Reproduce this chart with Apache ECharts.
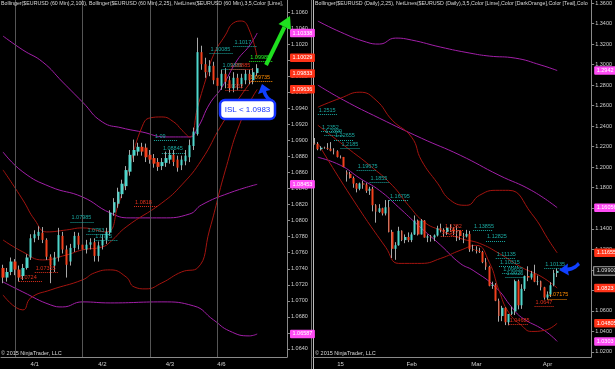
<!DOCTYPE html>
<html><head><meta charset="utf-8">
<script src="https://cdn.jsdelivr.net/npm/echarts@6/dist/echarts.min.js"></script>
<style>html,body{margin:0;padding:0;background:#000}#c{width:615px;height:369px}</style>
</head><body><div id="c"></div>
<script>
// ---------------- LEFT PANEL (60 min) ----------------
const leftCount = 72;
const leftTickIdx = [8, 25, 42, 55];
const leftTickText = ['4/1', '4/2', '4/3', '4/6'];
const leftDaySep = [3, 20, 37, 54];
const leftYTicks = [1.064,1.066,1.068,1.070,1.072,1.074,1.076,1.078,1.080,1.082,1.084,1.086,1.088,1.090,1.092,1.094,1.096,1.098,1.100,1.102,1.104,1.106];
const leftOpen  = [1.0741,1.0729,1.0736,1.0749,1.0739,1.0731,1.0741,1.0754,1.0778,1.0781,1.0785,1.0776,1.0755,1.0744,1.0754,1.0781,1.0764,1.0749,1.0766,1.0781,1.0770,1.0764,1.0770,1.0773,1.0756,1.0769,1.0776,1.0785,1.0810,1.0821,1.0833,1.0843,1.0861,1.0881,1.0886,1.0892,1.0891,1.0882,1.0878,1.0873,1.0868,1.0872,1.0876,1.0882,1.0876,1.0869,1.0874,1.0879,1.0893,1.0908,1.1010,1.0995,1.0985,1.0993,1.0978,1.0968,1.0983,1.0975,1.0965,1.0978,1.0970,1.0975,1.0983,1.0975,1.0984];
const leftClose = [1.0729,1.0736,1.0749,1.0739,1.0729,1.0741,1.0754,1.0778,1.0783,1.0786,1.0776,1.0755,1.0744,1.0754,1.0782,1.0764,1.0745,1.0766,1.0781,1.0770,1.0764,1.0770,1.0773,1.0756,1.0769,1.0776,1.0786,1.0810,1.0823,1.0836,1.0846,1.0863,1.0882,1.0888,1.0892,1.0886,1.0879,1.0876,1.0871,1.0867,1.0873,1.0878,1.0882,1.0873,1.0866,1.0876,1.0881,1.0894,1.0911,1.1010,1.0995,1.0985,1.0993,1.0975,1.0968,1.0983,1.0973,1.0965,1.0978,1.0970,1.0978,1.0983,1.0975,1.0985,1.0990];
const leftLow   = [1.0722,1.0724,1.0732,1.0732,1.0724,1.0726,1.0739,1.0751,1.0773,1.0776,1.0772,1.0751,1.0722,1.0736,1.0749,1.0759,1.0729,1.0744,1.0761,1.0764,1.0756,1.0759,1.0764,1.0749,1.0749,1.0764,1.0771,1.0781,1.0806,1.0816,1.0828,1.0838,1.0856,1.0873,1.0881,1.0881,1.0873,1.0871,1.0866,1.0862,1.0863,1.0867,1.0871,1.0868,1.0861,1.0863,1.0869,1.0873,1.0888,1.0906,1.0988,1.0978,1.0980,1.0970,1.0963,1.0963,1.0965,1.0960,1.0960,1.0963,1.0965,1.0970,1.0970,1.0970,1.0980];
const leftHigh  = [1.0745,1.0741,1.0754,1.0752,1.0744,1.0746,1.0758,1.0783,1.0788,1.0793,1.0792,1.0778,1.0758,1.0761,1.0791,1.0786,1.0769,1.0771,1.0786,1.0785,1.0776,1.0776,1.0778,1.0778,1.0774,1.0783,1.0791,1.0813,1.0828,1.0841,1.0851,1.0868,1.0888,1.0901,1.0897,1.0897,1.0896,1.0888,1.0883,1.0878,1.0878,1.0886,1.0888,1.0888,1.0881,1.0881,1.0888,1.0901,1.0916,1.1028,1.1018,1.1003,1.1000,1.0998,1.0983,1.0988,1.0990,1.0980,1.0985,1.0983,1.0983,1.0988,1.0988,1.0990,1.0995];
// Bollinger (2,100) – purple, sampled
const leftBB100UpIdx  = [0,5,10,15,20,25,30,35,41,47,49,52,55,59,62,64];
const leftBB100Up     = [1.10301,1.10127,1.09977,1.09728,1.09479,1.09230,1.09155,1.09105,1.09043,1.09043,1.09155,1.09454,1.09653,1.10002,1.10177,1.10338];
const leftBB100MidIdx = [0,5,12,20,27,32,40,47,50,57,64];
const leftBB100Mid    = [1.08856,1.08607,1.08420,1.08295,1.08096,1.08034,1.08034,1.08083,1.08196,1.08345,1.08453];
const leftBB100LoIdx  = [0,5,12,15,20,27,40,48,53,57,62,64];
const leftBB100Lo     = [1.07236,1.07111,1.06949,1.06924,1.06987,1.06974,1.06987,1.06937,1.06762,1.06625,1.06563,1.06587];
// Bollinger (2,25) – dark red, sampled
const leftBB25UpIdx  = [0,5,8,11,16,20,26,29,32,35,37,40,43,45,47,49,51,53,56,58,60,62,64];
const leftBB25Up     = [1.08632,1.08258,1.08009,1.07859,1.07884,1.07909,1.07859,1.08196,1.08694,1.09168,1.09280,1.09292,1.09230,1.09130,1.09043,1.09417,1.09753,1.10065,1.10314,1.10463,1.10488,1.10376,1.10029];
const leftBB25MidIdx = [0,5,10,16,20,25,27,31,40,45,50,55,60,64];
const leftBB25Mid    = [1.07759,1.07610,1.07510,1.07572,1.07635,1.07672,1.07734,1.07921,1.08220,1.08445,1.08756,1.09192,1.09566,1.09833];
const leftBB25LoIdx  = [0,5,7,12,20,23,27,31,33,36,40,45,49,52,56,60,64];
const leftBB25Lo     = [1.07074,1.06887,1.07037,1.07136,1.07261,1.07348,1.07386,1.07298,1.07174,1.07149,1.07224,1.07361,1.07411,1.07884,1.08632,1.09255,1.09636];
// NetLines (start bar, price, kind)
const leftNetIdx  = [4, 8, 17, 21, 23, 33, 38, 40, 52, 55, 58, 56, 57, 62, 62];
const leftNetVal  = [1.0724, 1.07355, 1.07985, 1.0783, 1.0775, 1.0818, 1.0900, 1.08845, 1.10085, 1.09885, 1.1017, 1.0962, 1.09885, 1.09985, 1.09735];
const leftNetKind = ['lo','lo','hi','hi','hi','lo','hi','hi','hi','hi','hi','lo','lo','last','mid'];

// ---------------- RIGHT PANEL (Daily) ----------------
const rightCount = 86;
const rightTickIdx = [8, 30, 50, 72];
const rightTickText = ['15', 'Feb', 'Mar', 'Apr'];
const rightYTicks = [1.02,1.04,1.06,1.08,1.10,1.12,1.14,1.16,1.18,1.20,1.22,1.24,1.26,1.28,1.30,1.32,1.34,1.36];
const rightOpen  = [1.2230,1.2226,1.2176,1.2190,1.2188,1.2180,1.2160,1.2155,1.2100,1.2100,1.1950,1.1935,1.1895,1.1840,1.1790,1.1842,1.1831,1.1770,1.1790,1.1630,1.1565,1.1600,1.1550,1.1610,1.1370,1.1205,1.1240,1.1380,1.1290,1.1320,1.1290,1.1345,1.1480,1.1345,1.1480,1.1315,1.1325,1.1315,1.1335,1.1405,1.1390,1.1370,1.1410,1.1405,1.1375,1.1380,1.1330,1.1325,1.1350,1.1200,1.1195,1.1185,1.1175,1.1075,1.1030,1.0845,1.0855,1.0700,1.0550,1.0630,1.0490,1.0570,1.0595,1.0890,1.0655,1.0815,1.0940,1.0925,1.0965,1.0885,1.0890,1.0830,1.0730,1.0760,1.0850,1.0970];
const rightHigh  = [1.2285,1.2245,1.2205,1.2200,1.2235,1.2245,1.2185,1.2165,1.2115,1.2100,1.1970,1.1955,1.1910,1.1845,1.1850,1.1869,1.1845,1.1810,1.1810,1.1640,1.1640,1.1605,1.1680,1.1680,1.1390,1.1270,1.1420,1.1385,1.1345,1.1365,1.1365,1.1530,1.1490,1.1495,1.1485,1.1345,1.1340,1.1345,1.1430,1.1450,1.1405,1.1420,1.1445,1.1415,1.1430,1.1385,1.1360,1.1390,1.1380,1.1245,1.1230,1.1215,1.1185,1.1115,1.1040,1.0885,1.0870,1.0720,1.0650,1.0635,1.0570,1.0640,1.0905,1.0905,1.0860,1.0945,1.1035,1.0990,1.1050,1.0945,1.0895,1.0835,1.0790,1.0880,1.1000,1.1015];
const rightLow   = [1.2220,1.2165,1.2163,1.2180,1.2170,1.2155,1.2125,1.2095,1.2085,1.2000,1.1860,1.1890,1.1800,1.1755,1.1775,1.1790,1.1750,1.1730,1.1570,1.1460,1.1555,1.1530,1.1530,1.1365,1.1115,1.1098,1.1235,1.1280,1.1260,1.1270,1.1270,1.1340,1.1335,1.1345,1.1315,1.1270,1.1275,1.1280,1.1325,1.1365,1.1320,1.1340,1.1370,1.1340,1.1280,1.1290,1.1260,1.1315,1.1175,1.1180,1.1160,1.1165,1.1065,1.1000,1.0840,1.0815,1.0695,1.0495,1.0500,1.0462,1.0460,1.0560,1.0560,1.0615,1.0620,1.0795,1.0890,1.0905,1.0880,1.0850,1.0800,1.0710,1.0710,1.0735,1.0840,1.0930];
const rightClose = [1.2226,1.2176,1.2190,1.2188,1.2180,1.2160,1.2155,1.2100,1.2098,1.2002,1.1930,1.1895,1.1840,1.1790,1.1842,1.1831,1.1770,1.1790,1.1630,1.1565,1.1600,1.1550,1.1610,1.1370,1.1205,1.1240,1.1380,1.1290,1.1320,1.1290,1.1345,1.1480,1.1345,1.1480,1.1315,1.1325,1.1315,1.1335,1.1405,1.1390,1.1370,1.1410,1.1405,1.1375,1.1380,1.1330,1.1325,1.1350,1.1200,1.1195,1.1185,1.1175,1.1075,1.1030,1.0845,1.0855,1.0700,1.0550,1.0630,1.0490,1.0570,1.0595,1.0890,1.0655,1.0815,1.0940,1.0925,1.0965,1.0885,1.0890,1.0830,1.0730,1.0760,1.0850,1.0970,1.0990];
const rightBB100UpIdx  = [1,8,16,20,25,30,39,48,54,62,70,75];
const rightBB100Up     = [1.3424,1.3317,1.3219,1.3200,1.3258,1.3239,1.3170,1.3112,1.3083,1.3063,1.2995,1.29420];
const rightBB100MidIdx = [1,9,20,33,45,57,67,75];
const rightBB100Mid    = [1.2800,1.2653,1.2478,1.2283,1.2117,1.1922,1.1775,1.16056];
const rightBB100LoIdx  = [1,8,14,20,26,32,39,45,49,56,61,64,71,75];
const rightBB100Lo     = [1.2097,1.2019,1.1892,1.1775,1.1609,1.1434,1.1239,1.1063,1.0995,1.0829,1.0634,1.0536,1.0410,1.03030];
const rightBB25UpIdx  = [1,8,14,19,24,30,33,38,42,47,51,56,60,67,73,75];
const rightBB25Up     = [1.2585,1.2673,1.2731,1.2653,1.2458,1.2292,1.2068,1.1844,1.1678,1.1629,1.1727,1.1775,1.1775,1.1551,1.1258,1.11655];
const rightBB25MidIdx = [1,5,11,17,24,29,34,39,45,51,57,64,70,75];
const rightBB25Mid    = [1.2409,1.2312,1.2166,1.2019,1.1824,1.1629,1.1463,1.1385,1.1307,1.1258,1.1161,1.1024,1.0936,1.08230];
const rightBB25LoIdx  = [1,11,22,26,33,39,45,50,54,57,60,64,67,71,75];
const rightBB25Lo     = [1.2234,1.1727,1.1219,1.1063,1.1063,1.1112,1.1190,1.1239,1.1073,1.0800,1.0585,1.0458,1.0400,1.0410,1.04805];
const rightNetIdx  = [1, 2, 3, 6, 8, 13, 17, 23, 39, 40, 49, 53, 56, 57, 58, 59, 60, 68, 71, 72];
const rightNetVal  = [1.2515, 1.2352, 1.2309, 1.22655, 1.2185, 1.19675, 1.1855, 1.16795, 1.1327, 1.1382, 1.13855, 1.12825, 1.11135, 1.10315, 1.09655, 1.0925, 1.04685, 1.0647, 1.10135, 1.07175];
const rightNetKind = ['hi','hi','hi','hi','hi','hi','hi','hi','lo','lo','hi','hi','hi','hi','hi','hi','lo','lo','hi','mid'];

// ---------------- helpers ----------------
const UP = '#4fd6cc', DOWN = '#f2401c', WICK = '#a8a8a8';
const RED = '#a3140f', PURPLE = '#a21fa8', PINKTAG = '#ff4cf5', REDTAG = '#ff3318';
const NETC = {hi: '#1aa8a0', lo: '#e0301c', mid: '#ff8c00', last: '#22ee22'};
const FONT = 'Liberation Sans';
const CLEAR = 'rgba(0,0,0,0)';
const fmt = v => String(+v.toFixed(5));
const cats = (n, idx, txt) => { const a = new Array(n).fill(''); idx.forEach((i, k) => a[i] = txt[k]); return a; };
const wick = (o,c,l,h) => o.map((v,i)=>[v, c[i], l[i], h[i]]);
const body = (o,c) => o.map((v,i)=>[v, c[i], Math.min(v,c[i]), Math.max(v,c[i])]);
const pairs = (idx, val) => idx.map((i,k)=>[i, val[k]]);

function bandSeries(ax, idx, val, color, tagColor) {
  return {
    type: 'line', xAxisIndex: ax, yAxisIndex: ax, data: pairs(idx, val), smooth: 0.5,
    showSymbol: false, symbol: 'none', lineStyle: {color, width: 1}, silent: true, z: 3, animation: false,
    markLine: { silent: true, symbol: ['none','none'], animation: false, precision: 6,
      lineStyle: {color: CLEAR, width: 1},
      label: {show: true, position: 'end', distance: 3, formatter: fmt(val[val.length-1]),
        backgroundColor: tagColor, color: '#fff', fontSize: 5.5, fontFamily: FONT, padding: [1.5, 2.5, 1, 2.5], borderRadius: 1},
      data: [{yAxis: val[val.length-1]}] }
  };
}
function netLines(idx, val, kind, len) {
  return idx.map((i,k)=>[
    {coord: [i, val[k]], lineStyle: {color: NETC[kind[k]]},
     label: {formatter: fmt(val[k]), color: NETC[kind[k]]}},
    {coord: [i + len, val[k]]}
  ]);
}
function candleSeries(ax, o, c, l, h, idx, val, kind, len, curTag) {
  const wickS = {type: 'candlestick', xAxisIndex: ax, yAxisIndex: ax, data: wick(o,c,l,h), barWidth: 1,
    itemStyle: {color: WICK, color0: WICK, borderColor: WICK, borderColor0: WICK, borderWidth: 1},
    silent: true, animation: false, z: 4,
    markLine: { silent: true, symbol: ['none','none'], animation: false,
      lineStyle: {color: '#555', type: 'solid', width: 1}, label: {show: false},
      data: (ax === 0 ? leftDaySep : []).map(i => ({xAxis: i})) } };
  const last = c[c.length-1];
  const bodyS = {type: 'candlestick', xAxisIndex: ax, yAxisIndex: ax, data: body(o,c), barWidth: '72%',
    itemStyle: {color: UP, color0: DOWN, borderColor: UP, borderColor0: DOWN, borderWidth: 0},
    silent: true, animation: false, z: 5,
    markLine: { silent: true, symbol: ['none','none'], animation: false, precision: 6,
      lineStyle: {type: [1, 1], width: 1},
      label: {show: true, position: 'insideStartTop', distance: 1, fontSize: 5.5, fontFamily: FONT},
      data: netLines(idx, val, kind, len).concat(curTag ? [{yAxis: last, lineStyle: {color: CLEAR},
        label: {position: 'end', distance: 3, formatter: last.toFixed(5), color: '#ddd', backgroundColor: '#111',
          borderColor: '#aaa', borderWidth: 1, padding: [1, 2.5, 0.5, 2.5], fontSize: 5.5}}] : []) } };
  return [wickS, bodyS];
}
function xAxisOf(gi, n, idx, txt) {
  return {type: 'category', gridIndex: gi, data: cats(n, idx, txt), boundaryGap: true,
    axisLine: {lineStyle: {color: '#8a8a8a'}}, axisTick: {show: false},
    axisLabel: {interval: 0, color: '#cfcfcf', fontSize: 6, fontFamily: FONT, margin: 4},
    splitLine: {show: false}};
}
function yAxisOf(gi, min, max, ticks, dec) {
  return {type: 'value', gridIndex: gi, position: 'right', min, max, scale: true,
    axisLine: {show: true, lineStyle: {color: '#8a8a8a'}},
    axisTick: {show: true, length: 3, lineStyle: {color: '#8a8a8a'}, customValues: ticks},
    axisLabel: {color: '#cfcfcf', fontSize: 5.5, fontFamily: FONT, margin: 4, customValues: ticks,
      formatter: v => v.toFixed(dec)},
    splitLine: {show: false}};
}

const chart = echarts.init(document.getElementById('c'), null, {renderer: 'canvas'});
const subtitle = {fontSize: 5.3, color: '#d8d8d8', fontWeight: 'normal', fontFamily: FONT, overflow: 'truncate', ellipsis: ''};
chart.setOption({
  backgroundColor: '#000',
  animation: false,
  title: [
    {text: 'Bollinger($EURUSD (60 Min),2,100), Bollinger($EURUSD (60 Min),2,25), NetLines($EURUSD (60 Min),3,5,Color [Lime],Color [DarkOrange],Color [Teal],Color [Red])',
     left: 1, top: 1, padding: 0, textStyle: Object.assign({}, subtitle, {width: 285})},
    {text: 'Bollinger($EURUSD (Daily),2,25), NetLines($EURUSD (Daily),3,5,Color [Lime],Color [DarkOrange],Color [Teal],Color [Red])',
     left: 315, top: 1, padding: 0, textStyle: Object.assign({}, subtitle, {width: 275})},
    {text: '© 2015 NinjaTrader, LLC', left: 1, top: 350, padding: 0, textStyle: Object.assign({}, subtitle, {width: 100, fontSize: 5.5})},
    {text: '© 2015 NinjaTrader, LLC', left: 315, top: 350, padding: 0, textStyle: Object.assign({}, subtitle, {width: 100, fontSize: 5.5})}
  ],
  grid: [
    {left: 0, top: 0, width: 287, height: 357},
    {left: 313, top: 0, width: 279, height: 357}
  ],
  xAxis: [xAxisOf(0, leftCount, leftTickIdx, leftTickText), xAxisOf(1, rightCount, rightTickIdx, rightTickText)],
  yAxis: [yAxisOf(0, 1.0630, 1.1075, leftYTicks, 4), yAxisOf(1, 1.0151, 1.3629, rightYTicks, 4)],
  series: [
    bandSeries(0, leftBB100UpIdx, leftBB100Up, PURPLE, PINKTAG),
    bandSeries(0, leftBB100MidIdx, leftBB100Mid, PURPLE, PINKTAG),
    bandSeries(0, leftBB100LoIdx, leftBB100Lo, PURPLE, PINKTAG),
    bandSeries(0, leftBB25UpIdx, leftBB25Up, RED, REDTAG),
    bandSeries(0, leftBB25MidIdx, leftBB25Mid, RED, REDTAG),
    bandSeries(0, leftBB25LoIdx, leftBB25Lo, RED, REDTAG),
    ...candleSeries(0, leftOpen, leftClose, leftLow, leftHigh, leftNetIdx, leftNetVal, leftNetKind, 6, false),
    bandSeries(1, rightBB100UpIdx, rightBB100Up, PURPLE, PINKTAG),
    bandSeries(1, rightBB100MidIdx, rightBB100Mid, PURPLE, PINKTAG),
    bandSeries(1, rightBB100LoIdx, rightBB100Lo, PURPLE, PINKTAG),
    bandSeries(1, rightBB25UpIdx, rightBB25Up, RED, REDTAG),
    bandSeries(1, rightBB25MidIdx, rightBB25Mid, RED, REDTAG),
    bandSeries(1, rightBB25LoIdx, rightBB25Lo, RED, REDTAG),
    ...candleSeries(1, rightOpen, rightClose, rightLow, rightHigh, rightNetIdx, rightNetVal, rightNetKind, 6, true)
  ],
  graphic: [
    {type: 'line', shape: {x1: 311.5, y1: 0, x2: 311.5, y2: 369}, style: {stroke: '#777', lineWidth: 1}, silent: true},
    {type: 'line', shape: {x1: 313.5, y1: 0, x2: 313.5, y2: 369}, style: {stroke: '#bbb', lineWidth: 1}, silent: true},
    {type: 'line', shape: {x1: 266, y1: 65, x2: 284.5, y2: 27}, style: {stroke: '#1fe01f', lineWidth: 4}, silent: true, z: 20},
    {type: 'polygon', shape: {points: [[290, 16], [291, 30], [278.5, 24]]}, style: {fill: '#1fe01f'}, silent: true, z: 20},
    {type: 'polygon', shape: {points: [[262,84],[258,94],[262.5,92.5],[264,96],[267,100],[271,103],[273,100],[269,97],[267,94],[266,91],[270.5,90]]},
     style: {fill: '#1040ff'}, silent: true, z: 20},
    {type: 'rect', shape: {x: 220, y: 100, width: 55, height: 19, r: 5}, style: {fill: '#fff', stroke: '#1633ff', lineWidth: 2.5}, silent: true, z: 20},
    {type: 'text', x: 247.5, y: 110, style: {text: 'ISL < 1.0983', fill: '#1633ff', font: '8px "Liberation Sans"', align: 'center', verticalAlign: 'middle'}, silent: true, z: 21},
    {type: 'polygon', shape: {points: [[559,270],[568,263.5],[567.5,267.5],[571,267],[575,265],[578,262],[580,265],[576,268.5],[572,270.5],[568,271.5],[569,275.5]]},
     style: {fill: '#1040ff'}, silent: true, z: 20}
  ]
});
</script></body></html>
